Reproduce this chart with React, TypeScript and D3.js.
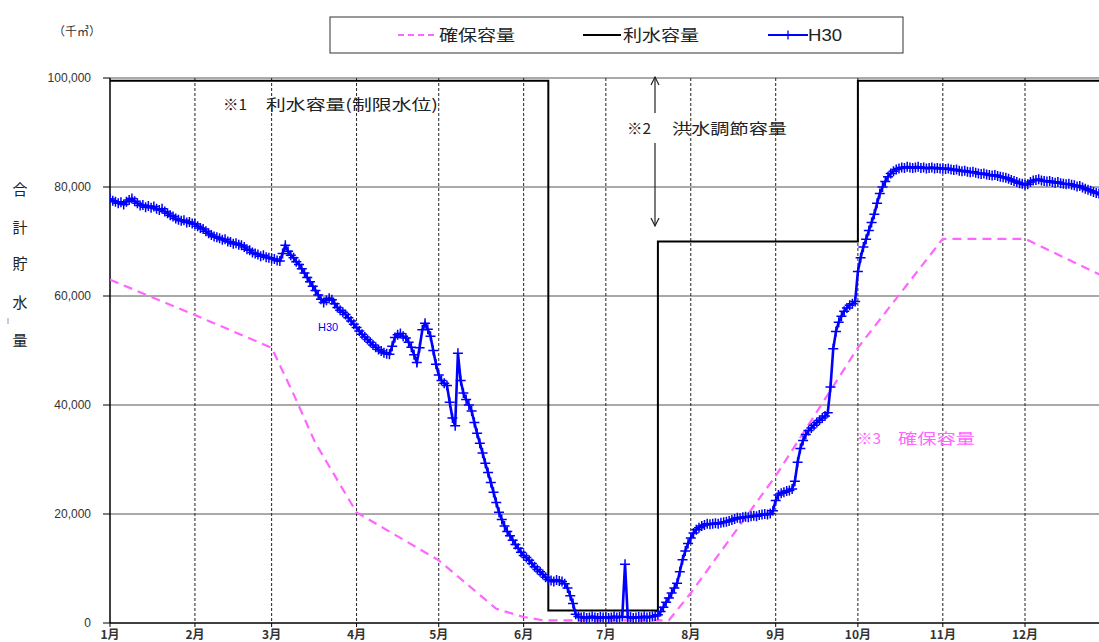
import React from "react";
import * as d3 from "d3";

const monthLabels = ["1月","2月","3月","4月","5月","6月","7月","8月","9月","10月","11月","12月"];
const monthStartDays = [0,31,59,90,120,151,181,212,243,273,304,334];
const yTicks = [0,20000,40000,60000,80000,100000];

// 確保容量 (day of year, 千m3)
const kakuhoDays = [0,31,59,67,75,90,120,141,151,158,204,212,243,273,304,334,361,365];
const kakuhoVals = [63000,56500,50500,42000,33000,20300,11500,2600,1100,500,500,5500,27000,50500,70500,70500,64000,63000];

// 利水容量 step (day of year)
const risuiDays = [0,160,200,273,365];
const risuiVals = [99500,2300,70000,99500,99500];

// H30 daily storage (千m3 / 1000), Jan 1 .. Dec 31
const h30Jan = [77.8,77.5,77.3,77.0,77.2,76.8,77.3,77.6,77.9,77.4,77.0,76.6,76.7,76.3,76.5,76.2,76.4,76.0,75.8,76.0,75.5,75.2,74.8,74.6,74.2,74.0,73.8,73.9,73.5,73.6,73.3];
const h30Feb = [73.2,72.8,72.5,72.3,71.9,71.5,71.2,70.9,70.8,70.6,70.3,70.4,70.0,69.9,69.6,69.7,69.4,69.3,69.0,68.6,68.4,68.0,67.8,67.6,67.3,67.5,67.1,67.0];
const h30Mar = [66.9,66.8,66.5,66.4,67.8,69.3,68.2,67.5,67.0,66.3,65.8,65.0,64.2,63.4,62.6,61.8,61.0,60.2,59.4,58.8,59.2,59.6,59.3,58.6,57.9,57.4,57.0,56.6,56.0,55.4,54.8];
const h30Apr = [54.2,53.6,53.0,52.5,52.0,51.5,51.0,50.6,50.2,49.9,49.6,49.4,49.3,50.8,52.4,52.9,53.1,52.6,52.3,51.5,50.6,49.2,47.8,50.5,53.8,55.0,53.9,52.6,50.0,47.5];
const h30May = [45.5,44.5,44.0,43.6,40.5,37.6,36.2,49.5,44.5,42.2,41.0,40.0,38.9,36.8,34.8,33.0,31.2,29.3,27.6,25.8,24.0,22.1,20.3,19.0,17.8,16.8,16.0,15.2,14.4,13.7,13.0];
const h30Jun = [12.4,12.0,11.5,10.9,10.3,9.8,9.4,8.9,8.4,8.0,7.8,7.6,7.9,7.7,7.6,7.2,6.4,5.0,3.6,1.6,1.2,1.0,1.1,0.9,1.0,1.2,1.0,0.9,1.1,1.0];
const h30Jul = [1.1,0.9,1.0,1.2,1.0,1.1,1.2,10.8,1.0,1.1,0.9,1.0,1.1,1.0,1.2,1.0,1.1,1.2,1.3,1.5,2.1,2.9,3.8,4.6,5.5,6.4,7.3,9.4,11.6,13.2,14.6];
const h30Aug = [15.6,16.5,17.1,17.5,17.8,18.0,18.2,18.1,18.2,18.3,18.2,18.4,18.5,18.6,18.7,18.9,19.1,19.3,19.2,19.4,19.5,19.4,19.6,19.7,19.6,19.8,19.9,20.0,19.9,20.1,20.6];
const h30Sep = [22.5,23.5,23.8,24.0,24.2,24.3,24.6,26.0,29.5,32.0,33.5,34.6,35.3,35.8,36.3,36.8,37.2,37.6,38.0,38.6,43.3,50.3,53.5,55.2,56.3,57.2,57.8,58.3,58.6,59.0];
const h30Oct = [64.5,67.0,69.0,70.4,72.0,73.5,75.0,77.0,78.8,80.0,81.0,81.9,82.5,82.9,83.2,83.4,83.6,83.5,83.7,83.6,83.5,83.6,83.7,83.5,83.6,83.4,83.5,83.6,83.4,83.5,83.4];
const h30Nov = [83.4,83.3,83.4,83.2,83.1,83.2,83.0,82.9,83.0,82.8,82.7,82.8,82.6,82.5,82.4,82.5,82.3,82.2,82.1,82.2,82.0,81.9,81.8,81.7,81.5,81.3,81.1,80.9,80.7,80.6];
const h30Dec = [80.4,80.5,80.9,81.2,81.3,81.4,81.2,81.1,81.0,81.1,80.9,80.8,80.9,80.7,80.6,80.5,80.6,80.4,80.3,80.1,80.2,79.9,79.7,79.5,79.3,79.1,78.9,78.8,78.6,78.5,78.3];

const h30 = [...h30Jan,...h30Feb,...h30Mar,...h30Apr,...h30May,...h30Jun,...h30Jul,...h30Aug,...h30Sep,...h30Oct,...h30Nov,...h30Dec].map(v => v * 1000);

const W = 1099, H = 642;
const x = d3.scaleLinear().domain([0, 334]).range([110, 1025]);
const y = d3.scaleLinear().domain([0, 100000]).range([623, 78]);

const PINK = "#FF66FF";
const BLUE = "#0000FF";
const JP = "'Noto Sans CJK JP', 'Liberation Sans', sans-serif";
const NUM = "'Liberation Sans', Arial, sans-serif";

function T(props: any) {
  const { w, children, ...rest } = props;
  return (
    <text fontFamily={JP} {...rest} textLength={w} lengthAdjust="spacingAndGlyphs">{children}</text>
  );
}

export default function App() {
  const kakuhoLine = d3.line<number>().x((_, i) => x(kakuhoDays[i])).y(d => y(d))(kakuhoVals) || "";
  const risuiLine = d3.line<number>().curve(d3.curveStepAfter).x((_, i) => x(risuiDays[i])).y(d => y(d))(risuiVals) || "";
  const h30Line = d3.line<number>().x((_, i) => x(i)).y(d => y(d))(h30) || "";
  const arrowX = 655;
  const vLabel = ["合","計","貯","水","量"];
  const vLabelY = [195, 233, 269, 308, 346];

  return (
    <svg width={W} height={H} style={{ position: "absolute", left: 0, top: 0, background: "#fff" }}>
      <defs>
        <clipPath id="plot"><rect x={110} y={70} width={W - 110} height={560} /></clipPath>
      </defs>
      {/* horizontal gridlines */}
      {yTicks.filter(t => t > 0).map(t => (
        <line key={t} x1={110} x2={W} y1={y(t)} y2={y(t)} stroke="#555" strokeWidth={1} />
      ))}
      {/* vertical dashed month gridlines */}
      {monthStartDays.slice(1).map(d => (
        <line key={d} x1={x(d)} x2={x(d)} y1={y(100000)} y2={y(0)} stroke="#222" strokeWidth={1} strokeDasharray="3,2" />
      ))}
      {/* y axis */}
      <line x1={110} x2={110} y1={y(100000)} y2={y(0)} stroke="#000" strokeWidth={1.5} />
      {yTicks.map(t => (
        <g key={t}>
          <line x1={103} x2={110} y1={y(t)} y2={y(t)} stroke="#000" />
          <text x={91} y={y(t) + 4} textAnchor="end" fontFamily={NUM} fontSize={12} fill="#333">{d3.format(",")(t)}</text>
        </g>
      ))}
      {/* x axis */}
      <line x1={110} x2={W} y1={y(0)} y2={y(0)} stroke="#000" strokeWidth={1.5} />
      {monthStartDays.map((d, i) => (
        <g key={d}>
          <line x1={x(d)} x2={x(d)} y1={y(0)} y2={y(0) + 4} stroke="#000" />
          <text x={x(d)} y={639} textAnchor="middle" fontFamily={JP} fontSize={12} fontWeight="bold" fill="#333">{monthLabels[i]}</text>
        </g>
      ))}

      <g clipPath="url(#plot)">
        <path d={kakuhoLine} fill="none" stroke={PINK} strokeWidth={2.2} strokeDasharray="9,6" />
        <path d={risuiLine} fill="none" stroke="#000" strokeWidth={2} />
        <path d={h30Line} fill="none" stroke={BLUE} strokeWidth={2.6} />
        {h30.map((v, i) => (
          <path key={i} d={`M${x(i) - 5},${y(v)}H${x(i) + 5}M${x(i)},${y(v) - 5}V${y(v) + 5}`} stroke={BLUE} strokeWidth={1.5} />
        ))}
      </g>

      {/* units */}
      <text x={53} y={36} fontFamily={JP} fontSize={12} fill="#333">（千㎥）</text>
      {vLabel.map((c, i) => (
        <text key={c} x={20} y={vLabelY[i]} textAnchor="middle" fontFamily={JP} fontSize={15} fill="#222">{c}</text>
      ))}
      <line x1={8} x2={8} y1={318} y2={324} stroke="#999" strokeWidth={1} />

      {/* annotations */}
      <T x={223} y={110} fontSize={15} fill="#222" w={24}>※1</T>
      <T x={266} y={110} fontSize={15} fill="#222" w={172}>利水容量(制限水位)</T>
      <T x={627} y={134} fontSize={15} fill="#222" w={24}>※2</T>
      <T x={672} y={134} fontSize={15} fill="#222" w={115}>洪水調節容量</T>
      <line x1={arrowX} x2={arrowX} y1={77} y2={113} stroke="#222" strokeWidth={1.2} />
      <path d={`M${arrowX - 4},85L${arrowX},77L${arrowX + 4},85`} fill="none" stroke="#222" strokeWidth={1.2} />
      <line x1={arrowX} x2={arrowX} y1={143} y2={226} stroke="#222" strokeWidth={1.2} />
      <path d={`M${arrowX - 4},218L${arrowX},226L${arrowX + 4},218`} fill="none" stroke="#222" strokeWidth={1.2} />
      <T x={857} y={444} fontSize={15} fill={PINK} w={24}>※3</T>
      <T x={898} y={444} fontSize={15} fill={PINK} w={77}>確保容量</T>
      <text x={318} y={331} fontFamily={NUM} fontSize={11} fill={BLUE}>H30</text>

      {/* legend */}
      <rect x={330} y={17} width={573} height={36} fill="#fff" stroke="#333" strokeWidth={1} />
      <line x1={398} x2={435} y1={35} y2={35} stroke={PINK} strokeWidth={2} strokeDasharray="6,4" />
      <T x={439} y={41} fontSize={16} fill="#222" w={76}>確保容量</T>
      <line x1={583} x2={621} y1={35} y2={35} stroke="#000" strokeWidth={2} />
      <T x={623} y={41} fontSize={16} fill="#222" w={76}>利水容量</T>
      <line x1={768} x2={808} y1={35} y2={35} stroke={BLUE} strokeWidth={2} />
      <path d="M783,35H793M788,30.5V39.5" stroke={BLUE} strokeWidth={1.3} />
      <text x={808} y={41} fontFamily={NUM} fontSize={16} fill="#222" textLength={34} lengthAdjust="spacingAndGlyphs">H30</text>
    </svg>
  );
}
